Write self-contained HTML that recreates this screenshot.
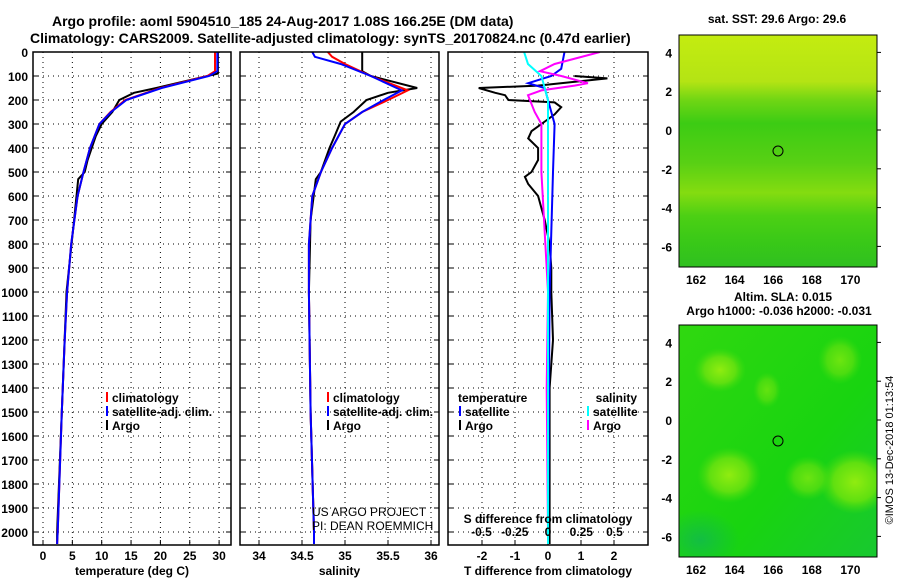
<!DOCTYPE html>
<html><head><meta charset="utf-8">
<style>
body{margin:0;background:#fff;}
svg{display:block;font-family:"Liberation Sans",sans-serif;font-weight:bold;}
</style></head>
<body>
<svg id="c" width="900" height="580" xmlns="http://www.w3.org/2000/svg">
<defs>
<linearGradient id="g1" x1="0" y1="0" x2="0" y2="1">
<stop offset="0" stop-color="#c4ec10"/><stop offset="0.2" stop-color="#b4e414"/>
<stop offset="0.28" stop-color="#70d614"/><stop offset="0.38" stop-color="#3ccc14"/>
<stop offset="0.55" stop-color="#58d014"/><stop offset="0.68" stop-color="#84dc10"/>
<stop offset="0.78" stop-color="#4cd014"/><stop offset="0.9" stop-color="#38c818"/><stop offset="1" stop-color="#30c020"/>
</linearGradient>
<linearGradient id="g2" x1="0" y1="0" x2="1" y2="1">
<stop offset="0" stop-color="#30d810"/><stop offset="0.6" stop-color="#18d410"/><stop offset="1" stop-color="#18c830"/>
</linearGradient>
<radialGradient id="b1"><stop offset="0" stop-color="#90ec10"/><stop offset="0.6" stop-color="#60e010"/><stop offset="1" stop-color="#40dc10" stop-opacity="0"/></radialGradient>
<radialGradient id="b2"><stop offset="0" stop-color="#10b850"/><stop offset="1" stop-color="#10b850" stop-opacity="0"/></radialGradient>
<clipPath id="m2clip"><rect x="679" y="325" width="198" height="232"/></clipPath>
</defs>
<text x="52" y="26" font-size="14">Argo profile: aoml 5904510_185 24-Aug-2017 1.08S 166.25E (DM data)</text>
<text x="30" y="43" font-size="14">Climatology: CARS2009. Satellite-adjusted climatology: synTS_20170824.nc (0.47d earlier)</text>
<g id="plots"></g>
<g>
<text x="777" y="23" font-size="12" text-anchor="middle">sat. SST: 29.6 Argo: 29.6</text>
<rect x="679" y="35" width="198" height="232" fill="url(#g1)" stroke="#000"/>
<circle cx="778" cy="151" r="5" fill="none" stroke="#000"/>
</g>
<g>
<text x="783" y="301" font-size="12" text-anchor="middle">Altim. SLA: 0.015</text>
<text x="779" y="315" font-size="12" text-anchor="middle">Argo h1000: -0.036 h2000: -0.031</text>
<g clip-path="url(#m2clip)">
<rect x="679" y="325" width="198" height="232" fill="url(#g2)"/>
<ellipse cx="729" cy="475" rx="32" ry="28" fill="url(#b1)"/>
<ellipse cx="855" cy="482" rx="36" ry="32" fill="url(#b1)"/>
<ellipse cx="720" cy="370" rx="26" ry="22" fill="url(#b1)"/>
<ellipse cx="808" cy="478" rx="24" ry="22" fill="url(#b1)" opacity="0.7"/>
<ellipse cx="840" cy="360" rx="22" ry="24" fill="url(#b1)" opacity="0.7"/>
<ellipse cx="767" cy="390" rx="14" ry="18" fill="url(#b1)" opacity="0.6"/>
<ellipse cx="700" cy="540" rx="40" ry="30" fill="url(#b2)" opacity="0.8"/>
</g>
<rect x="679" y="325" width="198" height="232" fill="none" stroke="#000"/>
<circle cx="778" cy="441" r="5" fill="none" stroke="#000"/>
</g>
<text transform="translate(893,450) rotate(-90)" font-size="11" font-weight="normal" text-anchor="middle">©IMOS 13-Dec-2018 01:13:54</text>
</svg>
<script>
const depthTicks=[0,100,200,300,400,500,600,700,800,900,1000,1100,1200,1300,1400,1500,1600,1700,1800,1900,2000];
const tempTicks=[0,5,10,15,20,25,30];
const tempTickLabels=["0","5","10","15","20","25","30"];
const salTicks=[34,34.5,35,35.5,36];
const salTickLabels=["34","34.5","35","35.5","36"];
const tdiffTicks=[-2,-1,0,1,2];
const tdiffTickLabels=["-2","-1","0","1","2"];
const sdiffTicks=[-0.5,-0.25,0,0.25,0.5];
const sdiffTickLabels=["-0.5","-0.25","0","0.25","0.5"];
const lonTicks=[162,164,166,168,170];
const latTicks=[4,2,0,-2,-4,-6];

const tDepth=[0,80,100,150,200,250,300,400,500,600,800,1000,1200,1500,2000,2050];
const tClim=[29.3,29.3,28,20,14,11.5,9.6,8,6.9,5.9,4.8,4.1,3.7,3.2,2.5,2.4];
const tSat=[29.7,29.7,28.3,20.2,14.2,11.6,9.6,8,6.9,5.9,4.8,4.1,3.7,3.2,2.5,2.4];
const aDepth=[0,90,100,150,170,200,250,300,350,450,500,530,700,1000,1500,2000,2050];
const tArgo=[29.8,29.8,28,19.3,15.5,13,11.8,10,9,7.6,7.1,6,5.3,4,3.2,2.4,2.4];

const sDepth=[0,20,50,100,160,200,250,300,400,500,600,800,1000,1500,2000,2050];
const sClim=[34.8,34.85,35.0,35.3,35.73,35.5,35.2,35.0,34.85,34.72,34.62,34.58,34.58,34.6,34.64,34.64];
const sSat=[34.62,34.65,34.95,35.3,35.66,35.45,35.2,35.0,34.85,34.72,34.62,34.58,34.58,34.6,34.64,34.64];
const sArgoDepth=[0,80,100,150,170,200,250,290,350,400,500,530,700,1000,1500,2000,2050];
const sArgo=[35.2,35.2,35.3,35.84,35.5,35.25,35.1,34.95,34.88,34.82,34.72,34.66,34.6,34.58,34.6,34.64,34.64];

const dDepth=[100,110,140,150,170,180,200,210,230,260,300,330,360,400,450,500,520,550,600,650,700,800,900,1000,1200,1300,1400,1500,1600,1800,2000,2050];
const dTArgo=[0.8,1.8,-0.3,-2.1,-1.6,-1.3,-1.2,0.2,0.4,0.2,-0.2,-0.5,-0.6,-0.3,-0.3,-0.5,-0.7,-0.6,-0.3,-0.2,-0.1,0.05,0.1,0.1,0.15,0.1,0.05,0.05,0.05,0.05,0.05,0.05];
const dDepthSat=[0,70,100,130,150,200,300,500,1000,2000,2050];
const dTSat=[0.5,0.4,0.1,-0.6,-0.1,0,0.2,0.15,0.05,0,0];
const dSDepthArgo=[0,50,80,100,130,140,160,180,250,300,500,1000,1400,2000,2050];
const dSArgo=[0.39,0.05,-0.06,0.1,0.3,0.2,-0.05,-0.15,-0.1,-0.05,-0.05,0,-0.01,0,0];
const dSDepthSat=[0,50,100,200,500,2000,2050];
const dSSat=[-0.18,-0.15,-0.05,0,0,0,0];

const NS='http://www.w3.org/2000/svg';
const root=document.getElementById('plots');
function el(tag,attrs,parent,text){const e=document.createElementNS(NS,tag);for(const k in attrs)e.setAttribute(k,attrs[k]);if(text!==undefined)e.textContent=text;(parent||root).appendChild(e);return e;}
const TOP=52,BOT=545;
function yD(d){return TOP+d*0.24;}
const panels=[
 {name:'temperature',x0:33,x1:231,f:v=>43+v*5.87,ticks:tempTicks,labels:tempTickLabels,title:'temperature (deg C)'},
 {name:'salinity',x0:240,x1:439,f:v=>259+(v-34)*86,ticks:salTicks,labels:salTickLabels,title:'salinity'},
 {name:'difference',x0:448,x1:648,f:v=>548+v*33,ticks:tdiffTicks,labels:tdiffTickLabels,title:'T difference from climatology'}
];
function polyline(xs,ds,f,color,g,name){
 let pts=xs.map((v,i)=>f(v).toFixed(1)+','+yD(ds[i]).toFixed(1)).join(' ');
 const p=el('polyline',{points:pts,fill:'none',stroke:color,'stroke-width':2},g);
 
 
}
panels.forEach((P,pi)=>{
 const g=el('g',{},root);
 
 
 const cp=el('clipPath',{id:'cp'+pi},g);el('rect',{x:P.x0,y:TOP,width:P.x1-P.x0,height:BOT-TOP},cp);
 depthTicks.forEach(d=>{el('line',{x1:P.x0,x2:P.x1,y1:yD(d),y2:yD(d),stroke:'#000','stroke-dasharray':'1 4'},g);
  el('line',{x1:P.x0,x2:P.x0+5,y1:yD(d),y2:yD(d),stroke:'#000'},g);el('line',{x1:P.x1-5,x2:P.x1,y1:yD(d),y2:yD(d),stroke:'#000'},g);});
 P.ticks.forEach((t,i)=>{const x=P.f(t);el('line',{x1:x,x2:x,y1:TOP,y2:BOT,stroke:'#000','stroke-dasharray':'1 4'},g);
  el('line',{x1:x,x2:x,y1:BOT-5,y2:BOT,stroke:'#000'},g);
  const t1=el('text',{x:x,y:BOT+15,'font-size':12,'text-anchor':'middle'},g,P.labels[i]);
  
  });
 const tt=el('text',{x:(P.x0+P.x1)/2,y:575,'font-size':12,'text-anchor':'middle'},g,P.title);
 
 
 const sg=el('g',{'clip-path':'url(#cp'+pi+')'},g);
 if(pi==0){polyline(tArgo,aDepth,P.f,'#000',sg,'argo-temp-line');polyline(tClim,tDepth,P.f,'#f00',sg,'clim-temp-line');polyline(tSat,tDepth,P.f,'#00f',sg,'sat-temp-line');}
 if(pi==1){polyline(sArgo,sArgoDepth,P.f,'#000',sg,'argo-sal-line');polyline(sClim,sDepth,P.f,'#f00',sg,'clim-sal-line');polyline(sSat,sDepth,P.f,'#00f',sg,'sat-sal-line');}
 if(pi==2){const fs=v=>548+v*133;
  polyline(dTArgo,dDepth,P.f,'#000',sg,'argo-tdiff-line');polyline(dTSat,dDepthSat,P.f,'#00f',sg,'sat-tdiff-line');
  polyline(dSArgo,dSDepthArgo,fs,'#f0f',sg,'argo-sdiff-line');polyline(dSSat,dSDepthSat,fs,'#0ff',sg,'sat-sdiff-line');
  sdiffTicks.forEach((t,i)=>{const x=fs(t);const s=el('text',{x:x,y:536,'font-size':12,'text-anchor':'middle'},g,sdiffTickLabels[i]);
   });
  const st=el('text',{x:548,y:523,'font-size':12,'text-anchor':'middle'},g,'S difference from climatology');
  
 }
 el('rect',{x:P.x0,y:TOP,width:P.x1-P.x0,height:BOT-TOP,fill:'none',stroke:'#000','stroke-width':1.5},g);
});
depthTicks.forEach(d=>{const t=el('text',{x:28,y:yD(d)+5,'font-size':12,'text-anchor':'end'},root,String(d));
 });
function legend(x,y,items){items.forEach((it,i)=>{const yy=y+i*14;
 el('line',{x1:x,x2:x,y1:yy-10,y2:yy,stroke:it[1],'stroke-width':2});
 const t=el('text',{x:x+5,y:yy,'font-size':12},root,it[0]);
 });}
legend(107,402,[['climatology','#f00'],['satellite-adj. clim.','#00f'],['Argo','#000']]);
legend(328,402,[['climatology','#f00'],['satellite-adj. clim.','#00f'],['Argo','#000']]);
el('text',{x:458,y:402,'font-size':12},root,'temperature');
legend(460,416,[['satellite','#00f'],['Argo','#000']]);
el('text',{x:637,y:402,'font-size':12,'text-anchor':'end'},root,'salinity');
legend(588,416,[['satellite','#0ff'],['Argo','#f0f']]);
const p1=el('text',{x:312,y:516,'font-size':12,'font-weight':'normal'},root,'US ARGO PROJECT');

const p2=el('text',{x:312,y:530,'font-size':12,'font-weight':'normal'},root,'PI: DEAN ROEMMICH');

function mapAxes(x0,yT,yB,latY){
 lonTicks.forEach(l=>{const x=696+(l-162)*19.3;el('line',{x1:x,x2:x,y1:yB-4,y2:yB,stroke:'#000'});el('line',{x1:x,x2:x,y1:yT,y2:yT+4,stroke:'#000'});
  const t=el('text',{x:x,y:yB+17,'font-size':12,'text-anchor':'middle'},root,String(l));
  });
 latTicks.forEach(l=>{const y=latY-(l)*19.4;el('line',{x1:x0,x2:x0+4,y1:y,y2:y,stroke:'#000'});el('line',{x1:877,x2:881,y1:y,y2:y,stroke:'#000'});
  const t=el('text',{x:x0-7,y:y+5,'font-size':12,'text-anchor':'end'},root,String(l));
  });
}
mapAxes(679,35,267,130);
mapAxes(679,325,557,420);
</script>
</body></html>
